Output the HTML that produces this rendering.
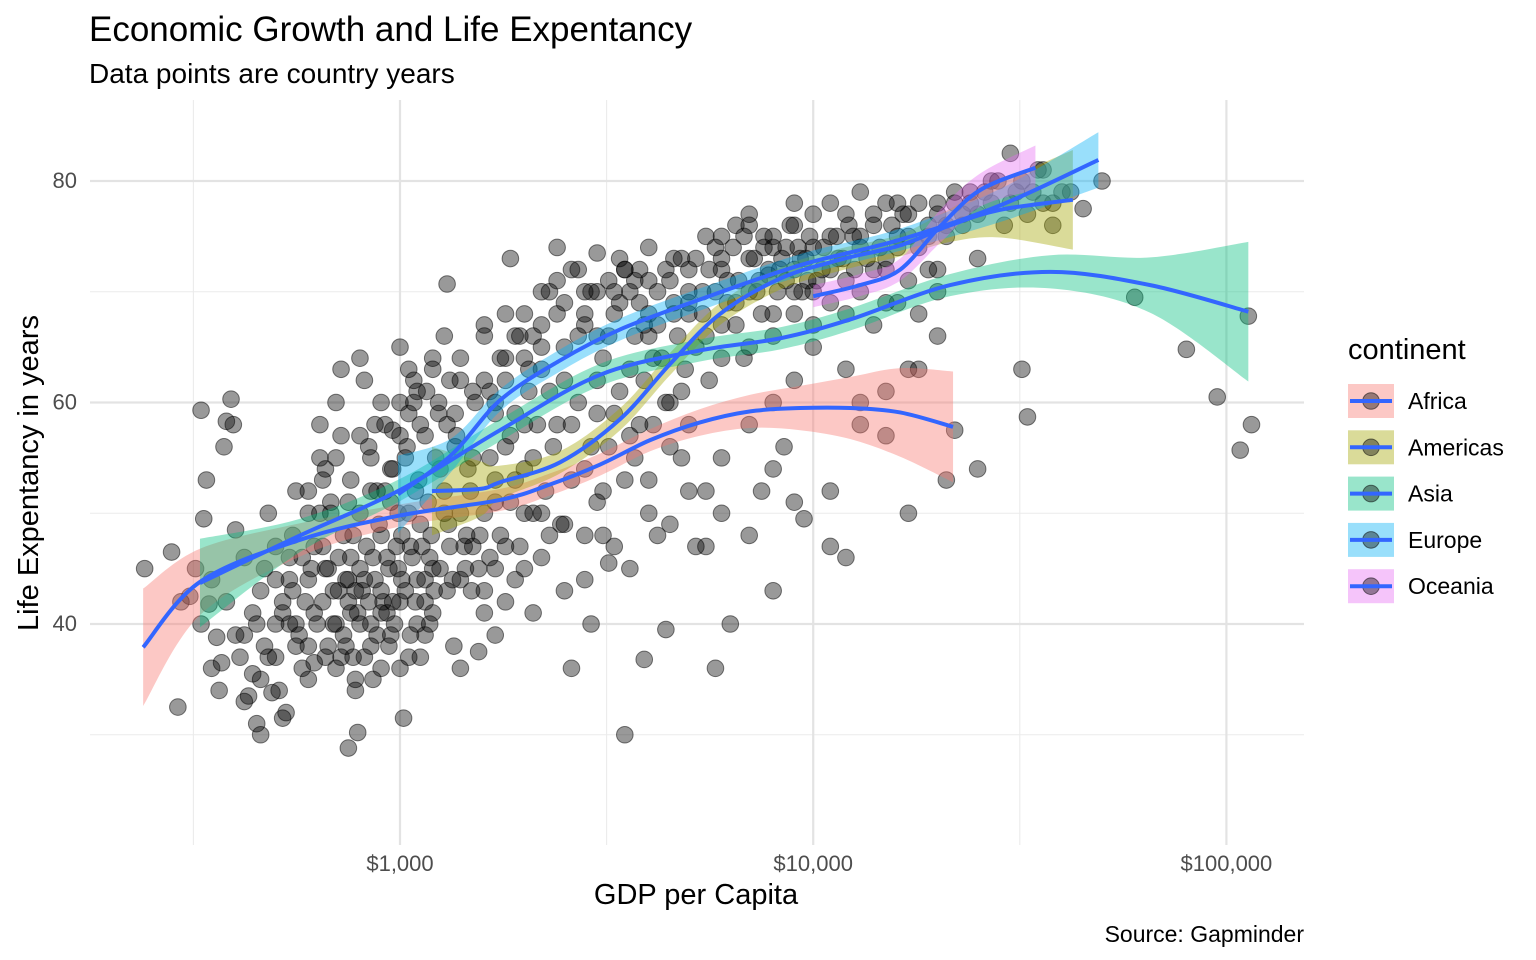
<!DOCTYPE html>
<html><head><meta charset="utf-8"><style>
html,body{margin:0;padding:0;background:#fff;}
svg{display:block;font-family:"Liberation Sans",Arial,sans-serif;}
</style></head><body>
<svg id="chart" width="1536" height="960" viewBox="0 0 1536 960">
<text x="89" y="41" font-size="35" fill="#000">Economic Growth and Life Expentancy</text>
<text x="89" y="83" font-size="28" fill="#000">Data points are country years</text>
<g id="grid"></g>
<g id="points"></g>
<g id="smooths"></g>
<g id="axes"></g>
<text x="696" y="904" font-size="29" text-anchor="middle" fill="#000">GDP per Capita</text>
<text transform="translate(38,473) rotate(-90)" font-size="29" text-anchor="middle" fill="#000">Life Expentancy in years</text>
<text x="1304" y="942" font-size="23" text-anchor="end" fill="#000">Source: Gapminder</text>
<g id="legend"></g>
</svg>
<script>
const xMajor=[1000,10000,100000];
const xMajorLabels=["$1,000","$10,000","$100,000"];
const xMinor=[316.2,3162,31623];
const yMajor=[40,60,80];
const yMinor=[30,50,70];
const continents=["Africa","Americas","Asia","Europe","Oceania"];
const colors=["#F8766D","#A3A500","#00BF7D","#00B0F6","#E76BF3"];
const africaGdp=[239,328,573,1000,1746,2307,3050,4030,5320,7040,9300,12290,16240,21800];
const africaLife=[37.9,43.8,47.6,49.8,51.2,52.6,54.4,56.6,58.2,59.2,59.5,59.5,59.1,57.8];
const africaSe=[5.3,3,1.5,1,1,1,1,1,1.2,1.5,2,2.8,4,5];
const americasGdp=[1195,1563,1746,2440,3410,4510,5950,8330,11640,16270,21460,28350,42500];
const americasLife=[52.0,52.2,52.8,54.6,58.5,63.5,68.0,71.2,72.9,74.2,76.0,77.4,78.3];
const americasSe=[4,2.5,1.5,1,1,1,1,1,1,1,1.5,2.5,4.5];
const asiaGdp=[328,573,1000,1746,3050,5320,8330,12290,21460,37500,65400,113000];
const asiaLife=[43.7,48.0,52.1,57.5,62.5,64.7,65.8,67.5,70.6,71.8,70.6,68.2];
const asiaSe=[4,1.5,1,1,1,1,1,1,1,1.5,2.5,6.3];
const europeGdp=[989,1335,1746,2440,3410,5320,9300,16240,28350,49000];
const europeLife=[51.7,55.3,60.2,63.8,66.6,69.3,72.4,74.7,77.8,81.9];
const europeSe=[3.5,1.5,1,1,1,1,1,1,1.5,2.5];
const oceaniaGdp=[10000,12980,16240,20400,25400,34500];
const oceaniaLife=[69.6,70.6,72.0,76.0,79.2,81.2];
const oceaniaSe=[1,1,1,1.5,1.5,2];
const pointGdp=[241,280,290,295,310,320,330,335,340,345,350,360,365,370,375,380,390,395,400,410,420,430,440,450,460,470,480,490,500,510,520,530,540,550,560,580,600,620,640,660,680,700,720,740,750,760,770,780,790,800,820,850,870,900,930,960,980,1000,1020,1050,1080,1100,1150,1200,1250,1300,1350,1400,1450,1500,1550,1600,1650,1700,1800,1850,1900,2000,2100,2200,2300,2400,2500,2600,2700,2800,2900,3000,3100,3200,3300,3500,3700,3900,4000,4200,4400,4600,4800,5000,5200,5500,5800,6000,6300,6500,7000,7500,7800,8000,8500,9000,9500,10000,11000,12000,12500,13000,14000,15000,16000,17000,18000,19000,20000,21000,22000,24000,25000,27000,30000,32000,33000,35000,40000,45000,50000,60000,80000,95000,108000,113000,115000,
550,560,580,600,620,650,670,690,710,730,760,780,800,820,840,860,880,900,920,940,960,990,1010,1030,1060,1090,1120,1150,1180,1210,1240,1280,1320,1360,1400,1440,1480,1520,1560,1600,1650,1700,1750,1800,1850,1900,1950,2000,2050,2100,2200,2300,2400,2500,2600,2700,2800,2900,3000,3100,3200,3300,3400,3500,3600,3700,3800,3900,4000,4100,4200,4400,4600,4800,5000,5200,5400,5600,5800,6000,6200,6500,6800,7000,7300,7600,8000,8300,8600,9000,9300,9700,10000,10500,11000,11500,12000,13000,14000,15000,16000,17000,18000,19000,20000,21000,22000,23000,25000,27000,29000,31000,33000,36000,38000,
450,470,500,520,540,560,600,620,640,660,700,720,750,800,850,900,950,1000,1050,1100,1150,1200,1300,1400,1500,1600,1700,1800,2000,2200,2500,2800,3000,3300,3600,4000,4500,5000,5500,6000,7000,8000,9000,10000,12000,14000,16000,18000,20000,
600,650,700,750,800,850,900,950,1000,1050,1100,1200,1300,1400,1500,1600,1700,1800,2000,2200,2500,2800,3000,3500,4000,4500,5000,6000,7000,8000,9000,10000,11000,12000,13000,15000];
const pointLife=[45,46.5,32.5,42,42.5,45,59.3,49.5,53,41.8,36,38.8,34,36.5,56,58.3,60.3,58,48.5,37,39,33.5,35.5,31,30,45,50,33.8,37,34,31.5,32,40,43,38,36,35,41,58,54,50,60,63,44,28.8,46,37,35,30.2,64,62,55,58,43,41,57.5,47,65,31.5,63,60,40,42,45,54,70.7,38,36,48,55,37.5,66,61,39,62,73,44,58,41,50,70,74,49,36,72,44,40,73.5,52,45.5,70,30,55,36.8,74,48,39.5,73,61,68,47,75,36,72,40,76,77,52,71.5,43,56,78,49.5,70,52,46,75,60,72,57,78,50,63,76,66,53,57.5,79,54,80,82.5,63,58.7,81,79,77.5,80,69.5,64.8,60.5,55.7,67.8,58,
48,52,46,44,47,42,45,40,43,48,41,43,40,44,42,46,39,48,52,45,42,50,44,55,47,52,49,57,46,43,59,50,47,56,62,45,52,60,48,43,55,51,64,47,57,53,66,45,61,55,63,48,58,65,53,60,67,56,62,48,66,59,69,53,63,71,58,67,50,64,70,60,68,55,72,65,70,62,74,67,71,69,64,73,70,75,68,72,74,70,73,71,74,72,75,73,71,74,76,73,75,77,74,72,77,75,78,76,77,78,76,79,77,78,76,
40,38,44,42,46,40,38,36.5,50,45,40,37,42,45,38,36,39,42,37,44,39,41,43,44,47,41,45,42,50,46,43,48,51,47,45,53,49,58,52,55,58,60,62,65,63,67,69,68,70,
50,53,55,51,57,52,60,54,57,59,61,63,58,64,61,67,59,68,64,67,69,70,66,72,68,71,69,75,76,74,76,77,78,77,79,78];
const extraGdp=[520,540,570,590,610,630,650,670,690,710,730,750,770,790,810,830,850,870,890,910,930,950,970,990,1010,1030,1050,1070,1090,1110,1130,1150,1170,1190,1220,1250,1280,1310,1340,1370,1400,1430,1460,1490,600,640,680,720,760,800,840,880,920,960,1000,1040,1080,1120,1160,1200,1240,1280,1320,1360,660,700,740,780,820,860,900,940,1000,1060,1120,1180,
1550,1600,1650,1700,1750,1800,1850,1900,1950,2000,2050,2100,2150,2200,2250,2300,2350,2400,2450,2500,2600,2700,2800,2900,3000,3100,3200,3300,3400,3500,3600,3700,3800,3900,4000,4100,4200,4300,4400,4500,4600,4700,4800,4900,1600,1700,1800,1900,2000,2100,2200,2400,2600,2800,3000,3200,3400,3600,3800,4000,
5000,5200,5400,5600,5800,6000,6200,6400,6600,6800,7000,7200,7400,7600,7800,8000,8200,8400,8600,8800,9000,9200,9400,9600,9800,10200,10600,11000,11400,11800,12200,12600,13000,13500,14000,14500,15000,15500,16000,16500,17000,18000,19000,20000,21000,22000,23000,24000,26000,28000,30000,32000,34000,36000,38000,42000,5500,6000,6500,7000,7500,8000,9000,10000,11000,12000,13000,15000,17000,20000,25000,4500,5000,5500,6000,7000,8000,9000,11000,13000,15000,17000,
330,350,380,400,420,440,460,480,500,420,460,500];
const extraLife=[41,44,39,42,45,40,47,38,43,46,39,44,48,41,43,47,40,44,49,42,46,51,40,45,48,43,50,46,42,53,47,44,51,48,55,45,52,49,44,57,50,47,54,43,52,55,51,57,53,50,56,52,58,54,60,56,62,58,61,64,60,66,62,59,37,36,38,34,37,35,41,38,36,39,37,40,
45,50,46,53,48,56,51,59,47,54,63,50,58,65,52,61,56,68,49,62,58,66,54,70,59,64,56,68,61,72,57,66,69,62,71,58,67,64,72,60,69,66,73,63,62,60,64,66,68,66,70,71,72,68,70,71,73,70,72,66,
70,73,68,72,70,73,69,74,71,75,70,73,71,74,72,75,70,73,71,76,72,74,70,73,75,71,74,72,75,73,76,72,75,73,77,74,72,76,74,77,75,78,75,78,76,79,77,78,79,80,78,80,79,81,78,79,66,64,67,65,68,66,68,67,69,68,70,69,71,72,73,56,52,47,50,48,54,51,47,58,61,63,
40,44,42,39,46,41,43,37,47,33,35,40];

const L=90,R=1304,T=100,B=845;
const lx0=Math.log10(1000),xAt1000=400,pxPerDec=413.2;
function xs(g){return xAt1000+(Math.log10(g)-lx0)*pxPerDec;}
function ys(v){return 181+(80-v)*11.075;}
const NS="http://www.w3.org/2000/svg";
function mk(tag,attrs,parent){const e=document.createElementNS(NS,tag);for(const k in attrs)e.setAttribute(k,attrs[k]);parent.appendChild(e);return e;}
const grid=document.getElementById('grid');
yMinor.forEach(v=>{const l=mk('line',{x1:L,x2:R,y1:ys(v),y2:ys(v),stroke:'#ebebeb','stroke-width':1.1},grid);

});
xMinor.forEach(v=>{const l=mk('line',{x1:xs(v),x2:xs(v),y1:T,y2:B,stroke:'#ebebeb','stroke-width':1.1},grid);

});
yMajor.forEach(v=>{const l=mk('line',{x1:L,x2:R,y1:ys(v),y2:ys(v),stroke:'#e3e3e3','stroke-width':2.2},grid);

});
xMajor.forEach(v=>{const l=mk('line',{x1:xs(v),x2:xs(v),y1:T,y2:B,stroke:'#e3e3e3','stroke-width':2.2},grid);

});
const axes=document.getElementById('axes');
yMajor.forEach(v=>{const t=mk('text',{x:77,y:ys(v)+7,'font-size':22,'text-anchor':'end',fill:'#4d4d4d'},axes);t.textContent=v;

});
xMajor.forEach((v,i)=>{const t=mk('text',{x:xs(v),y:871,'font-size':22,'text-anchor':'middle',fill:'#4d4d4d'},axes);t.textContent=xMajorLabels[i];

});
const pts=document.getElementById('points');
function addPts(gs,ls){for(let i=0;i<gs.length;i++){const c=mk('circle',{cx:xs(gs[i]),cy:ys(ls[i]),r:8.3,fill:'rgba(0,0,0,0.4)',stroke:'rgba(0,0,0,0.5)','stroke-width':1},pts);

}}
addPts(pointGdp,pointLife);
addPts(extraGdp,extraLife);
const sm=document.getElementById('smooths');
function smoothPath(p){let d='M'+p[0][0]+','+p[0][1];for(let i=1;i<p.length;i++){const p0=p[Math.max(0,i-2)],p1=p[i-1],p2=p[i],p3=p[Math.min(p.length-1,i+1)];
const c1=[p1[0]+(p2[0]-p0[0])/6,p1[1]+(p2[1]-p0[1])/6],c2=[p2[0]-(p3[0]-p1[0])/6,p2[1]-(p3[1]-p1[1])/6];d+=' C'+c1+' '+c2+' '+p2;}return d;}
const sets=[[africaGdp,africaLife,africaSe],[americasGdp,americasLife,americasSe],[asiaGdp,asiaLife,asiaSe],[europeGdp,europeLife,europeSe],[oceaniaGdp,oceaniaLife,oceaniaSe]];
sets.forEach((s,k)=>{const up=s[0].map((g,i)=>[xs(g),ys(s[1][i]+s[2][i])]);const lo=s[0].map((g,i)=>[xs(g),ys(s[1][i]-s[2][i])]).reverse();
const d=smoothPath(up)+' L'+lo[0]+smoothPath(lo).slice(1).replace(/^[^C]*/,' ')+' Z';
const r=mk('path',{d:d,fill:colors[k],'fill-opacity':0.4,stroke:'none'},sm);

});
sets.forEach((s,k)=>{const p=s[0].map((g,i)=>[xs(g),ys(s[1][i])]);
const l=mk('path',{d:smoothPath(p),fill:'none',stroke:'#3366FF','stroke-width':4},sm);

});
const lg=document.getElementById('legend');
const lt=mk('text',{x:1348,y:359,'font-size':29,fill:'#000'},lg);lt.textContent='continent';


continents.forEach((c,i)=>{const cy=401+i*46.3;const g=mk('g',{},lg);


mk('rect',{x:1348,y:cy-17,width:46,height:34,fill:colors[i],'fill-opacity':0.4},g);
mk('circle',{cx:1371,cy:cy,r:8.3,fill:'rgba(0,0,0,0.4)',stroke:'rgba(0,0,0,0.5)'},g);
mk('line',{x1:1350,x2:1392,y1:cy,y2:cy,stroke:'#3366FF','stroke-width':4},g);
const t=mk('text',{x:1408,y:cy+8,'font-size':23,fill:'#000'},g);t.textContent=c;});
</script>
</body></html>
